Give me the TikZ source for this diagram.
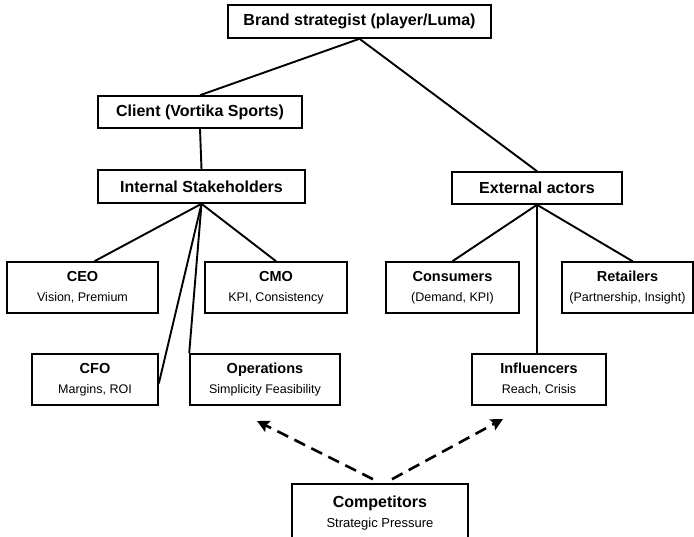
\documentclass[tikz,border=0pt]{standalone}
\usepackage{fontspec}
\setmainfont{Liberation Sans}
\usetikzlibrary{positioning,arrows.meta,calc}

\newcommand{\boxhead}[1]{{\fontsize{14.5}{20}\selectfont\bfseries #1}}

\begin{document}
\begin{tikzpicture}[
    x=1pt, y=-1pt,
    box/.style={draw, line width=1.6pt, inner sep=0pt, align=center, minimum height=51pt, font=\fontsize{12.5}{20}\selectfont},
    head/.style={box, minimum height=33pt, font=\fontsize{16}{19}\selectfont\bfseries},
    link/.style={line width=1.9pt},
    press/.style={-{Stealth[length=12pt,width=12pt,inset=2pt]}, line width=2.6pt, dash pattern=on 12pt off 7pt}
]
\fill[white] (0,0) rectangle (694,537);
\useasboundingbox (0,0) rectangle (694,537);

% top levels
\node[head, minimum width=263pt] (brand) at (359.5,21.5) {Brand strategist (player/Luma)};
\node[head, minimum width=204pt, minimum height=32pt] (client) at (200,112) {Client (Vortika Sports)};
\node[head, minimum width=207pt] (internal) at (201.5,186.5) {Internal Stakeholders};
\node[head, minimum width=170pt, minimum height=32pt] (external) at (537,188) {External actors};

% internal stakeholders
\node[box, minimum width=151pt] (ceo) at (82.5,287.5) {\boxhead{CEO}\\Vision, Premium};
\node[box, minimum width=142pt] (cmo) at (276,287.5) {\boxhead{CMO}\\KPI, Consistency};
\node[box, minimum width=126pt] (cfo) at (95,379.5) {\boxhead{CFO}\\Margins, ROI};
\node[box, minimum width=150pt] (ops) at (265,379.5) {\boxhead{Operations}\\Simplicity Feasibility};

% external actors
\node[box, minimum width=133pt] (consumers) at (452.5,287.5) {\boxhead{Consumers}\\(Demand, KPI)};
\node[box, minimum width=131pt] (retailers) at (627.5,287.5) {\boxhead{Retailers}\\(Partnership, Insight)};
\node[box, minimum width=134pt] (influencers) at (539,379.5) {\boxhead{Influencers}\\Reach, Crisis};

% competitors
\node[box, minimum width=176pt, minimum height=58pt, font=\fontsize{13}{20}\selectfont] (competitors) at (380,513)
    {{\fontsize{16}{20}\selectfont\bfseries Competitors}\\Strategic Pressure};
\coordinate (opsin) at (257,421);
\coordinate (inflin) at (503,419);

\draw[link] (brand.south) -- (client.north);
\draw[link] (brand.south) -- (external.north);
\draw[link] (client.south) -- (internal.north);

\draw[link] (internal.south) -- ([xshift=12pt]ceo.north);
\draw[link] (internal.south) -- (cmo.north);
\draw[link] (internal.south) -- ([yshift=-4pt]cfo.east);
\draw[link] (internal.south) -- (ops.north west);

\draw[link] (external.south) -- (consumers.north);
\draw[link] (external.south) -- ([xshift=5pt]retailers.north);
\draw[link] (external.south) -- (external.south |- influencers.north);

\draw[press] ([xshift=-7pt,yshift=4pt]competitors.north) -- (opsin);
\draw[press] ([xshift=12pt,yshift=4pt]competitors.north) -- (inflin);
\end{tikzpicture}
\end{document}
